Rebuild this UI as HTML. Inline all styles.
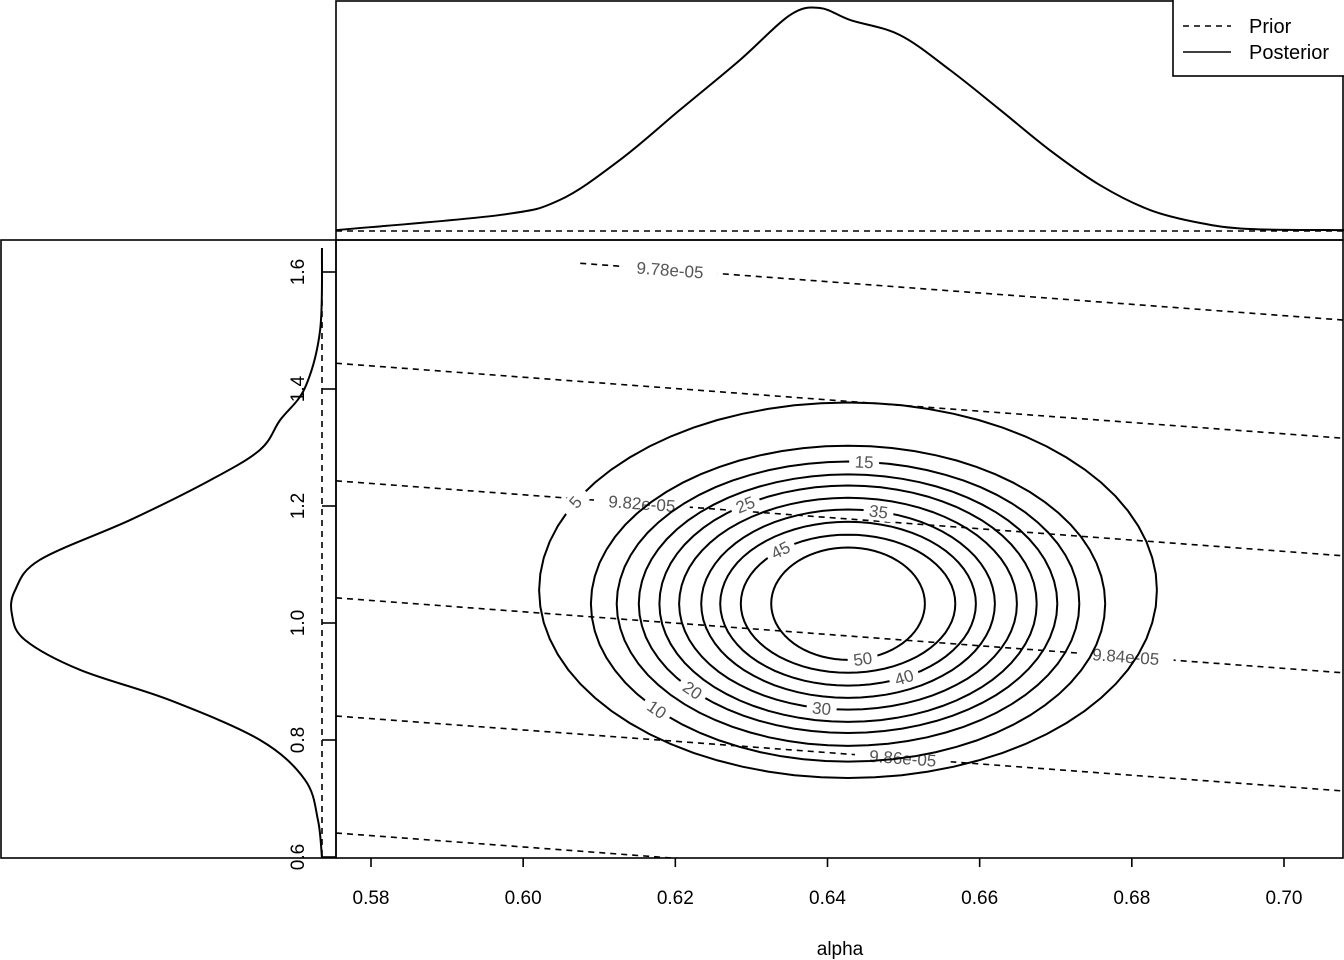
<!DOCTYPE html>
<html><head><meta charset="utf-8"><style>
html,body{margin:0;padding:0;background:#fff;}
svg{display:block;font-family:"Liberation Sans",Arial,sans-serif;}
</style></head><body>
<svg id="chart" width="1344" height="960" viewBox="0 0 1344 960">
<defs><clipPath id="mainclip"><rect x="336" y="240" width="1008" height="618"/></clipPath></defs>
<g id="mainG" clip-path="url(#mainclip)"></g>
<g id="topG"></g>
<g id="leftG"></g>
<g id="axesG"></g>
</svg>
<script>
// ---- data ----
const xTicks = [0.58, 0.60, 0.62, 0.64, 0.66, 0.68, 0.70];
const xTickLabels = ["0.58","0.60","0.62","0.64","0.66","0.68","0.70"];
const yTicks = [0.6, 0.8, 1.0, 1.2, 1.4, 1.6];
const yTickLabels = ["0.6","0.8","1.0","1.2","1.4","1.6"];
const topAlpha = [0.5754,0.5970,0.6048,0.6127,0.6206,0.6285,0.6351,0.6390,0.6430,0.6495,0.6561,0.6627,0.6692,0.6758,0.6824,0.6890,0.6955,0.7079];
const topDensity = [0.004,0.072,0.139,0.318,0.543,0.767,0.969,1.0,0.946,0.879,0.722,0.543,0.363,0.206,0.094,0.036,0.009,0.004];
const leftY = [1.641,1.501,1.402,1.347,1.296,1.244,1.176,1.108,1.056,1.014,0.971,0.920,0.868,0.800,0.732,0.663,0.598];
const leftDensity = [0,0.006,0.055,0.135,0.2,0.361,0.619,0.910,0.990,1.0,0.958,0.781,0.490,0.200,0.055,0.013,0];
const contourLevels = [5,10,15,20,25,30,35,40,45,50];
const contourCx = [0.6427,0.6427,0.6427,0.6427,0.6427,0.6427,0.6427,0.6427,0.6427,0.6427];
const contourCy = [1.056,1.033,1.033,1.033,1.033,1.033,1.033,1.033,1.033,1.033];
const contourHw = [0.0406,0.0338,0.0304,0.0275,0.0248,0.0222,0.0193,0.0168,0.0141,0.0101];
const contourHh = [0.321,0.270,0.243,0.221,0.202,0.181,0.161,0.140,0.118,0.096];
const contourLabelAngle = [-152,138,-86,138,-123,99,-78,64,-129,79];
const priorLevels = ["9.78e-05","9.80e-05","9.82e-05","9.84e-05","9.86e-05","9.88e-05"];
const priorIntercept = [1.646,1.444,1.243,1.043,0.841,0.641];
const priorSlope = -0.968;
const priorStart = [0.6075,0.5754,0.5754,0.5754,0.5754,0.5754];
const priorLabelAt = [0.6193,null,0.6156,0.6792,0.6499,null];

(function(){
const sx = a => 371 + (a - 0.58) * 7608.3;
const sy = v => 623 - (v - 1) * 585;
const NS = "http://www.w3.org/2000/svg";
function mk(tag, attrs, parent){const e=document.createElementNS(NS,tag);for(const k in attrs)e.setAttribute(k,attrs[k]);parent.appendChild(e);return e;}
const mainG=document.getElementById('mainG'), topG=document.getElementById('topG'), leftG=document.getElementById('leftG'), axesG=document.getElementById('axesG');

priorLevels.forEach((lv,i)=>{
  const a0=priorStart[i], a1=0.71;
  const f=a=>priorIntercept[i]+priorSlope*(a-0.5754);
  const ln=mk('line',{x1:sx(a0),y1:sy(f(a0)),x2:sx(a1),y2:sy(f(a1)),stroke:'#000','stroke-width':1.6,'stroke-dasharray':'6,5',fill:'none'},mainG);
  
  
  if(priorLabelAt[i]!==null){
    const a=priorLabelAt[i], x=sx(a), y=sy(f(a));
    const ang=Math.atan2(sy(f(a+0.01))-sy(f(a)), sx(a+0.01)-sx(a))*180/Math.PI;
    const g=mk('g',{transform:`translate(${x},${y}) rotate(${ang})`},mainG);
    mk('rect',{x:-48,y:-9,width:96,height:18,fill:'#fff'},g);
    const t=mk('text',{x:0,y:6,'text-anchor':'middle','font-size':17,fill:'#555'},g);
    t.textContent=lv;
    
    
  }
});

contourLevels.forEach((lv,i)=>{
  const cx=sx(contourCx[i]), cy=sy(contourCy[i]), rw=contourHw[i]*7608.3, rh=contourHh[i]*585;
  const pts=[];
  for(let k=0;k<=72;k++){const t=k/72*2*Math.PI;pts.push((cx+rw*Math.cos(t)).toFixed(1)+','+(cy+rh*Math.sin(t)).toFixed(1));}
  const p=mk('polyline',{points:pts.join(' '),fill:'none',stroke:'#000','stroke-width':2},mainG);
  
  
  const t=contourLabelAngle[i]*Math.PI/180;
  const x=cx+rw*Math.cos(t), y=cy+rh*Math.sin(t);
  const dx=-Math.sin(t)*rw, dy=Math.cos(t)*rh;
  let ang=Math.atan2(dy,dx)*180/Math.PI; if(ang>90)ang-=180; if(ang<-90)ang+=180;
  const g=mk('g',{transform:`translate(${x},${y}) rotate(${ang})`},mainG);
  mk('rect',{x:-15,y:-9,width:30,height:18,fill:'#fff'},g);
  const tx=mk('text',{x:0,y:6,'text-anchor':'middle','font-size':17,fill:'#555'},g);
  tx.textContent=String(lv);
  
  
});

function smooth(P){let s='M'+P[0][0]+','+P[0][1];for(let i=0;i<P.length-1;i++){const p0=P[Math.max(0,i-1)],p1=P[i],p2=P[i+1],p3=P[Math.min(P.length-1,i+2)];s+=` C${p1[0]+(p2[0]-p0[0])/6},${p1[1]+(p2[1]-p0[1])/6} ${p2[0]-(p3[0]-p1[0])/6},${p2[1]-(p3[1]-p1[1])/6} ${p2[0]},${p2[1]}`;}return s;}
const tH=v=>231-v*223;
const tp=mk('path',{d:smooth(topAlpha.map((a,i)=>[sx(a),tH(topDensity[i])])),fill:'none',stroke:'#000','stroke-width':2},topG);


const tpr=mk('line',{x1:336,y1:231,x2:1344,y2:231,stroke:'#000','stroke-width':1.6,'stroke-dasharray':'6,5'},topG);



const lW=v=>322-v*310;
const lp=mk('path',{d:smooth(leftY.map((y,i)=>[lW(leftDensity[i]),sy(y)])),fill:'none',stroke:'#000','stroke-width':2},leftG);


const lpr=mk('line',{x1:322,y1:300,x2:322,y2:858,stroke:'#000','stroke-width':1.6,'stroke-dasharray':'6,5'},leftG);



[[336,1,1007,239,'top-panel-frame'],[1,240,335,618,'left-panel-frame'],[336,240,1007,618,'main-panel-frame']].forEach(r=>{
  const e=mk('rect',{x:r[0],y:r[1],width:r[2],height:r[3],fill:'none',stroke:'#000','stroke-width':1.6},axesG);
  
  
});
xTicks.forEach((v,i)=>{
  mk('line',{x1:sx(v),y1:858,x2:sx(v),y2:867,stroke:'#000','stroke-width':1.6},axesG);
  const t=mk('text',{x:sx(v),y:904,'text-anchor':'middle','font-size':19},axesG);
  t.textContent=xTickLabels[i];
  
  
});
const xt=mk('text',{x:840,y:955,'text-anchor':'middle','font-size':19},axesG);
xt.textContent='alpha';


yTicks.forEach((v,i)=>{
  mk('line',{x1:322,y1:sy(v),x2:336,y2:sy(v),stroke:'#000','stroke-width':1.6},axesG);
  const t=mk('text',{x:0,y:0,'text-anchor':'middle','font-size':19,transform:`translate(304,${sy(v)}) rotate(-90)`},axesG);
  t.textContent=yTickLabels[i];
  
  
});
const lg=mk('g',{},axesG);


mk('rect',{x:1173,y:-2,width:172,height:78,fill:'#fff',stroke:'#000','stroke-width':1.6},lg);
mk('line',{x1:1183,y1:26,x2:1231,y2:26,stroke:'#000','stroke-width':1.6,'stroke-dasharray':'6,5'},lg);
mk('line',{x1:1183,y1:52,x2:1231,y2:52,stroke:'#000','stroke-width':1.6},lg);
const l1=mk('text',{x:1249,y:33,'font-size':20},lg);l1.textContent='Prior';


const l2=mk('text',{x:1249,y:59,'font-size':20},lg);l2.textContent='Posterior';


})();
</script>
</body></html>
